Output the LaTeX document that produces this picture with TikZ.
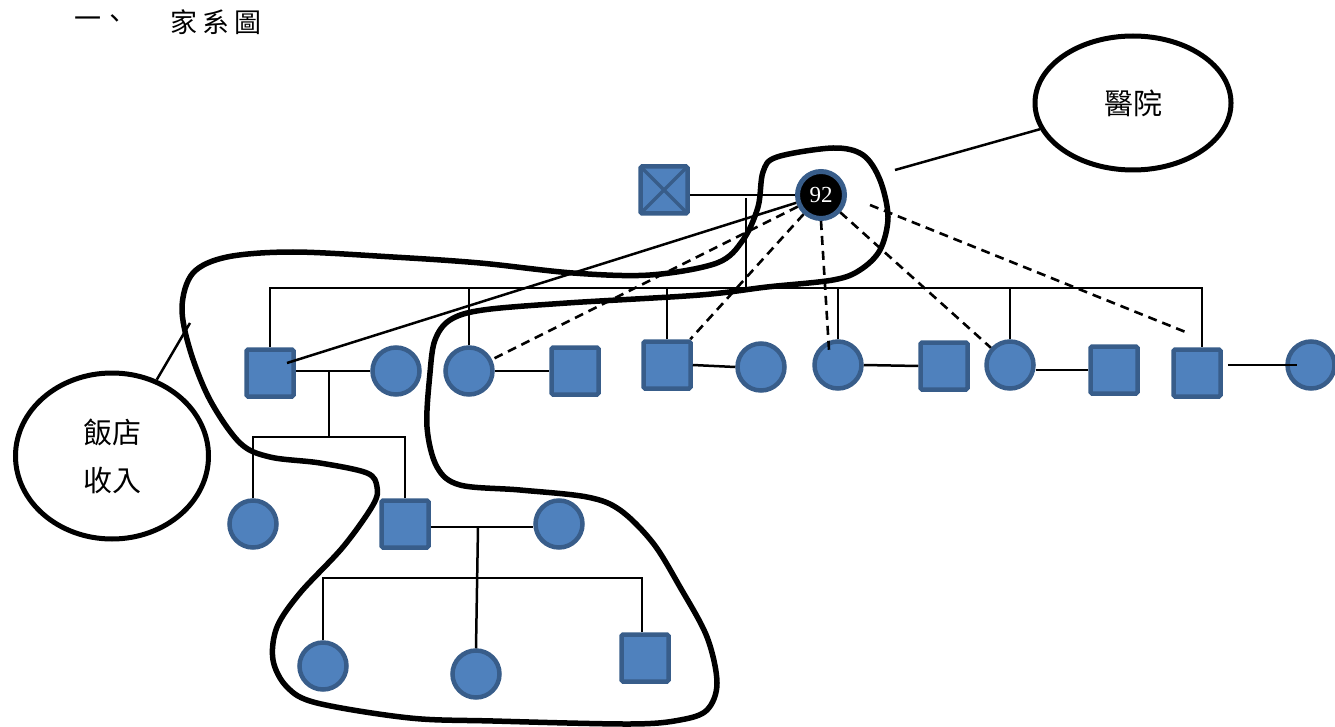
\documentclass[tikz,border=0pt]{standalone}
\usepackage{fontspec}
\setmainfont{Liberation Serif}
\newfontfamily\cjk{Noto Sans CJK TC}
\usetikzlibrary{shapes.geometric}
\definecolor{pfill}{HTML}{4F81BD}
\definecolor{pbord}{HTML}{385D8A}
\begin{document}
\begin{tikzpicture}[x=1pt,y=-1pt,
  male/.style={rectangle, fill=pfill, draw=pbord, line width=4.5pt, minimum size=47pt, inner sep=0pt, rounded corners=1.5pt},
  female/.style={circle, fill=pfill, draw=pbord, line width=4.5pt, minimum size=47pt, inner sep=0pt},
  rel/.style={line width=2.5pt},
  dsh/.style={line width=2.6pt, dash pattern=on 9pt off 6pt},
  blob/.style={line width=5.5pt, line join=round},
  callout/.style={ellipse, draw, line width=5pt, inner sep=0pt, font=\cjk\fontsize{29}{48}\selectfont, align=center},
  titletext/.style={anchor=west, font=\cjk\fontsize{27}{27}\selectfont, inner sep=0pt}]
\useasboundingbox (0,0) rectangle (1335,727);

% title
\node[titletext] (t1) at (74,22) {一、};
\node[titletext] (t2) at (170,22) {家\hspace{5pt}系\hspace{5pt}圖};

% grandparents
\node[male, path picture={\draw[pbord,line width=3.5pt] (path picture bounding box.north west) -- (path picture bounding box.south east) (path picture bounding box.north east) -- (path picture bounding box.south west);}] (gf) at (664,190) {};
\node[circle, fill=black, draw=pbord, line width=5pt, minimum size=47pt, inner sep=0pt, text=white, font=\fontsize{23}{23}\selectfont] (gm) at (821,195) {92};

% second generation
\node[male] (a1) at (270,373) {};
\node[female] (a1w) at (396,371) {};
\node[female] (b1) at (469,371) {};
\node[male] (b1h) at (575,371) {};
\node[male] (c1) at (667,365) {};
\node[female] (c1w) at (761,367) {};
\node[female] (d1) at (838,365) {};
\node[male] (d1h) at (944,366) {};
\node[female] (e1) at (1010,365) {};
\node[male] (e1h) at (1114,370) {};
\node[male] (f1) at (1197,373) {};
\node[female] (f1w) at (1311,365) {};

% third generation
\node[female] (g1) at (253,524) {};
\node[male] (g2) at (405,524) {};
\node[female] (g2w) at (559,524) {};

% fourth generation
\node[female] (h1) at (323,666) {};
\node[female] (h2) at (476,674) {};
\node[male] (h3) at (645,658) {};

% callouts
\node[callout, minimum width=196pt, minimum height=134pt] (hosp) at (1133,103) {醫院};
\node[callout, minimum width=193pt, minimum height=166pt] (rest) at (112,456) {飯店\\收入};

% coordinates
\coordinate (m0) at (746,198);
\coordinate (m1) at (746,288);
\coordinate (fd) at (1202,288);
\coordinate (j1) at (329,371);
\coordinate (j1b) at (329,437);
\coordinate (j2) at (478,527);
\coordinate (j3) at (642,578);
\coordinate (dd) at (829,350);
\coordinate (fs) at (870,205);
\coordinate (fe) at (1188,333);
\coordinate (ae) at (287,363);
\coordinate (hl) at (895,170);
\coordinate (rl) at (190,323);

% relationship lines
\draw[rel] (gf.east |- gm.west) -- (gm.west);
\draw[rel] (m0) -- (m1);
\draw[rel] (a1.north) |- (fd) -- (fd |- f1.north);
\draw[rel] (b1.north) -- (b1.north |- m1);
\draw[rel] (c1.north) -- (c1.north |- m1);
\draw[rel] (d1.north) -- (d1.north |- m1);
\draw[rel] (e1.north) -- (e1.north |- m1);

\draw[rel] (a1.east |- j1) -- (a1w.west |- j1);
\draw[rel] (b1.east) -- (b1h.west);
\draw[rel] (c1.east) -- (c1w.west);
\draw[rel] (d1.east) -- (d1h.west);
\draw[rel] (e1.east |- e1h.west) -- (e1h.west);
\draw[rel] ([xshift=5pt]f1.east |- f1w.west) -- ([xshift=12pt]f1w.west);

\draw[rel] (j1) -- (j1b);
\draw[rel] (g1.north) |- (j1b);
\draw[rel] (g2.north) |- (j1b);
\draw[rel] (g2.east |- j2) -- (g2w.west |- j2);
\draw[rel] (j2) -- (h2.north);
\draw[rel] (h1.north) |- (j3) -- (j3 |- h3.north);

% interaction lines
\draw[rel] (gm) -- (ae);
\draw[dsh] (gm) -- (b1);
\draw[dsh] (gm) -- (c1);
\draw[dsh] (gm.south) -- (dd);
\draw[dsh] (gm) -- (e1);
\draw[dsh] (fs) -- (fe);

% callout lines
\draw[rel] (hl) -- (hosp);
\draw[rel] (rest) -- (rl);

% eco boundary
\draw[blob] plot[smooth cycle, tension=0.55] coordinates {
 (193,273) (227,257) (293,252) (393,257) (480,263) (573,273) (650,275) (717,263)
 (743,240) (758,207) (763,172) (777,157) (833,148) (863,155) (880,180) (888,217)
 (880,250) (860,270) (833,280) (767,287) (700,295) (567,303) (483,310) (450,320)
 (435,340) (430,373) (427,427) (437,467) (460,485) (520,490) (587,497) (620,510)
 (653,543) (680,587) (707,637) (717,683) (707,710) (680,720) (630,724) (493,721)
 (410,718) (317,703) (287,687) (273,660) (277,627) (300,593) (343,547) (373,505)
 (377,487) (367,473) (320,463) (270,457) (240,443) (210,400) (190,350) (182,307)};
\end{tikzpicture}
\end{document}
